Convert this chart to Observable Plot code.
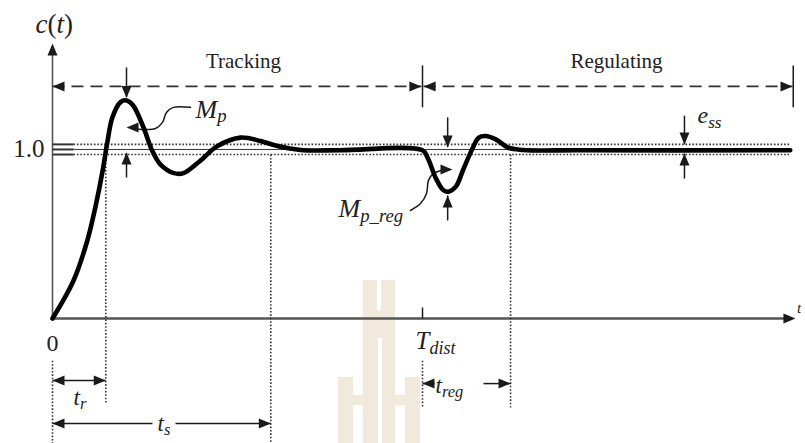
<!DOCTYPE html>
<html><head><meta charset="utf-8">
<script src="https://cdn.jsdelivr.net/npm/d3@7"></script>
<script src="https://cdn.jsdelivr.net/npm/@observablehq/plot@0.6"></script>
<style>html,body{margin:0;padding:0;background:#fff;overflow:hidden}#chart svg{display:block}</style>
</head><body><div id="chart"></div>
<script>
// ---- step response c(t) ----
const respT = [0,0.28,0.47,0.58,0.68,0.74,0.81,0.92,1.0,1.09,1.23,1.35,1.46,1.64,1.77,1.96,2.04,2.23,2.54,2.81,3.04,3.35,3.89,5.0,5.07,5.18,5.28,5.35,5.45,5.55,5.68,5.76,5.85,5.99,6.16,6.36,7.14,9.97];
const respC = [0,0.22,0.46,0.66,0.88,1.04,1.19,1.28,1.29,1.26,1.13,0.99,0.91,0.86,0.86,0.92,0.95,1.02,1.07,1.05,1.02,0.997,0.995,0.995,0.95,0.83,0.76,0.75,0.78,0.88,1.01,1.07,1.08,1.06,1.01,0.997,0.995,0.995];

// ---- reference level and tolerance band ----
const refLevel = 1.0;
const bandLevels = [0.97, 1.03];

// ---- characteristic times ----
const tRise = 0.72, tSettle = 2.95, tDist = 5.0, tRegEnd = 6.19, tEnd = 10.0;
const tPeak = 1.0, tPeakReg = 5.34, tEss = 8.54;

const curve = respT.map((t, i) => ({t, c: respC[i]}));

// arrow-head symbols (tip at the anchor point)
const head = (dir, L = 12, W = 10) => ({draw(ctx) {
  const h = W / 2;
  if (dir === "up") { ctx.moveTo(0,0); ctx.lineTo(-h,L); ctx.lineTo(h,L); }
  else if (dir === "down") { ctx.moveTo(0,0); ctx.lineTo(-h,-L); ctx.lineTo(h,-L); }
  else if (dir === "left") { ctx.moveTo(0,0); ctx.lineTo(L,-h); ctx.lineTo(L,h); }
  else { ctx.moveTo(0,0); ctx.lineTo(-L,-h); ctx.lineTo(-L,h); }
  ctx.closePath();
}});

// annotation geometry (data units)
const yTrack = 1.373, sepTop = 1.497, sepBot = 1.249;
const yTr = -0.367, yTs = -0.621, yTreg = -0.385;

const solidSegs = [
  {x1: tDist, y1: sepBot, x2: tDist, y2: sepTop},
  {x1: 10.01, y1: sepBot, x2: 10.01, y2: sepTop},
  {x1: tPeak, y1: 1.485, x2: tPeak, y2: 1.31},
  {x1: tPeak, y1: 0.834, x2: tPeak, y2: 0.98},
  {x1: tPeakReg, y1: 1.19, x2: tPeakReg, y2: 1.014},
  {x1: tPeakReg, y1: 0.58, x2: tPeakReg, y2: 0.728},
  {x1: tEss, y1: 1.2, x2: tEss, y2: 1.03},
  {x1: tEss, y1: 0.828, x2: tEss, y2: 0.976},
  {x1: 0, y1: yTr, x2: tRise, y2: yTr},
  {x1: 0, y1: yTs, x2: 1.351, y2: yTs},
  {x1: 1.662, y1: yTs, x2: tSettle, y2: yTs},
  {x1: tDist, y1: yTreg, x2: 5.162, y2: yTreg},
  {x1: 5.824, y1: yTreg, x2: tRegEnd, y2: yTreg},
  {x1: tDist, y1: 0, x2: tDist, y2: 0.065}
];
const stubSegs = [
  {x1: 0, y1: bandLevels[0], x2: 0.284, y2: bandLevels[0]},
  {x1: 0, y1: refLevel, x2: 0.284, y2: refLevel},
  {x1: 0, y1: bandLevels[1], x2: 0.284, y2: bandLevels[1]}
];
const dashSegs = [
  {x1: 0, y1: yTrack, x2: 4.985, y2: yTrack},
  {x1: 5.015, y1: yTrack, x2: tEnd, y2: yTrack}
];
const dotSegs = [
  {x1: 0.284, y1: bandLevels[0], x2: 9.97, y2: bandLevels[0]},
  {x1: 0.284, y1: bandLevels[1], x2: 9.97, y2: bandLevels[1]},
  {x1: tRise, y1: refLevel, x2: tRise, y2: -0.497},
  {x1: tSettle, y1: bandLevels[0], x2: tSettle, y2: -0.74},
  {x1: 0, y1: -0.25, x2: 0, y2: -0.74},
  {x1: tDist, y1: -0.25, x2: tDist, y2: -0.527},
  {x1: tRegEnd, y1: bandLevels[0], x2: tRegEnd, y2: -0.527}
];
const heads = [
  {x: 0, y: 1.627, dir: "up"},
  {x: 10.04, y: 0, dir: "right"},
  {x: 0, y: yTrack, dir: "left"},
  {x: 4.985, y: yTrack, dir: "right"},
  {x: 5.015, y: yTrack, dir: "left"},
  {x: tEnd, y: yTrack, dir: "right"},
  {x: tPeak, y: 1.305, dir: "down"},
  {x: tPeak, y: 0.982, dir: "up"},
  {x: tPeakReg, y: 1.012, dir: "down"},
  {x: tPeakReg, y: 0.728, dir: "up"},
  {x: tEss, y: 1.03, dir: "down"},
  {x: tEss, y: 0.976, dir: "up"},
  {x: 0, y: yTr, dir: "left"},
  {x: tRise, y: yTr, dir: "right"},
  {x: 0, y: yTs, dir: "left"},
  {x: tSettle, y: yTs, dir: "right"},
  {x: tDist, y: yTreg, dir: "left"},
  {x: tRegEnd, y: yTreg, dir: "right"},
  {x: 1.0, y: 1.13, dir: "left"},
  {x: 5.405, y: 0.882, dir: "right"}
];
const leaders = [
  ...[[1.865,1.249],[1.635,1.249],[1.54,1.219],[1.486,1.160],[1.392,1.124],[1.16,1.12]].map(([x,y]) => ({k:"mp", x, y})),
  ...[[4.838,0.639],[4.973,0.680],[5.054,0.740],[5.081,0.817],[5.149,0.858],[5.25,0.876]].map(([x,y]) => ({k:"mpr", x, y}))
];
// faint logo watermark of the source page
const logoFill = [
  {x1: 4.20, x2: 4.635, y1: -0.74, y2: 0.225},
  {x1: 3.865, x2: 4.068, y1: -0.74, y2: -0.349},
  {x1: 4.068, x2: 4.20, y1: -0.515, y2: -0.456},
  {x1: 4.77, x2: 4.973, y1: -0.74, y2: -0.349},
  {x1: 4.635, x2: 4.77, y1: -0.515, y2: -0.456}
];
const logoCut = [
  {x1: 4.39, x2: 4.446, y1: 0.047, y2: 0.225},
  {x1: 4.405, x2: 4.46, y1: -0.74, y2: -0.118}
];

const upright = [
  {x: 2.581, y: 1.479, s: "Tracking", size: 21, anchor: "middle"},
  {x: 7.622, y: 1.479, s: "Regulating", size: 21, anchor: "middle"},
  {x: -0.108, y: 0.953, s: "1.0", size: 25, anchor: "end"},
  {x: 0, y: -0.195, s: "0", size: 24, anchor: "middle"},
  {x: -0.23, y: 1.686, s: "c(t)", size: 27, anchor: "start"}
];
const italic = [
  {x: 4.905, y: -0.183, s: "T|dist", size: 25},
  {x: 0.284, y: -0.509, s: "t|r", size: 23},
  {x: 1.419, y: -0.663, s: "t|s", size: 23},
  {x: 5.176, y: -0.438, s: "t|reg", size: 23},
  {x: 1.932, y: 1.189, s: "M|p", size: 26},
  {x: 3.865, y: 0.598, s: "M|p_reg", size: 26},
  {x: 8.716, y: 1.154, s: "e|ss", size: 24},
  {x: 10.06, y: 0.03, s: "t", size: 15}
];

const ink = "#1a1a1a";
const serif = "Liberation Serif";
const lines = (data, o) => Plot.link(data, {x1: "x1", y1: "y1", x2: "x2", y2: "y2", ...o});

const marks = [
  Plot.rect(logoFill, {x1: "x1", x2: "x2", y1: "y1", y2: "y2", fill: "#f1e9db"}),
  Plot.rect(logoCut, {x1: "x1", x2: "x2", y1: "y1", y2: "y2", fill: "#ffffff"}),
  Plot.ruleY([0], {x1: 0, x2: 9.9, stroke: "#555", strokeWidth: 2.5}),
  Plot.ruleX([0], {y1: 0, y2: 1.56, stroke: "#555", strokeWidth: 1.6}),
  Plot.ruleY([refLevel], {x1: 0, x2: 9.97, stroke: "#333", strokeWidth: 1}),
  lines(dotSegs, {stroke: "#333", strokeWidth: 1.6, strokeDasharray: "1.6,1.8"}),
  lines(stubSegs, {stroke: "#333", strokeWidth: 2}),
  lines(dashSegs, {stroke: "#333", strokeWidth: 1.6, strokeDasharray: "12,7"}),
  lines(solidSegs, {stroke: ink, strokeWidth: 1.5}),
  Plot.line(leaders, {x: "x", y: "y", z: "k", curve: "catmull-rom", stroke: ink, strokeWidth: 1.5}),
  Plot.line(curve, {x: "t", y: "c", curve: "catmull-rom", stroke: "#000", strokeWidth: 4.6, strokeLinejoin: "round", strokeLinecap: "round"}),
  ...["up", "down", "left", "right"].map(d =>
    Plot.dot(heads.filter(h => h.dir === d), {x: "x", y: "y", symbol: head(d), fill: ink, stroke: "none", r: 5})),
  ...upright.map(l => Plot.text([l], {x: "x", y: "y", text: "s", fontSize: l.size, fontFamily: serif, textAnchor: l.anchor, lineAnchor: "bottom", fill: "#222"})),
  ...italic.map(l => Plot.text([l], {x: "x", y: "y", text: "s", fontSize: l.size, fontFamily: serif, fontStyle: "italic", textAnchor: "start", lineAnchor: "bottom", fill: "#222"}))
];

const chart = Plot.plot({
  width: 805, height: 443,
  x: {domain: [0, 10], range: [52, 792], axis: null},
  y: {domain: [0, 1.615], range: [318, 45], axis: null},
  style: {fontFamily: serif, background: "#fff", overflow: "hidden"},
  marks
});

const NS = "http://www.w3.org/2000/svg";
chart.querySelectorAll("text").forEach(el => {
  const s = el.textContent;
  if (s.includes("|")) {
    const [a, b] = s.split("|");
    el.textContent = "";
    const t1 = document.createElementNS(NS, "tspan"); t1.textContent = a;
    const t2 = document.createElementNS(NS, "tspan"); t2.textContent = b;
    t2.setAttribute("dy", "0.25em"); t2.setAttribute("font-size", "72%");
    el.append(t1, t2);
  } else if (s === "c(t)") {
    el.textContent = "";
    [["c", "italic"], ["(", "normal"], ["t", "italic"], [")", "normal"]].forEach(([c, st]) => {
      const t = document.createElementNS(NS, "tspan"); t.textContent = c; t.setAttribute("font-style", st); el.append(t);
    });
  }
});
document.getElementById("chart").append(chart);
</script></body></html>
